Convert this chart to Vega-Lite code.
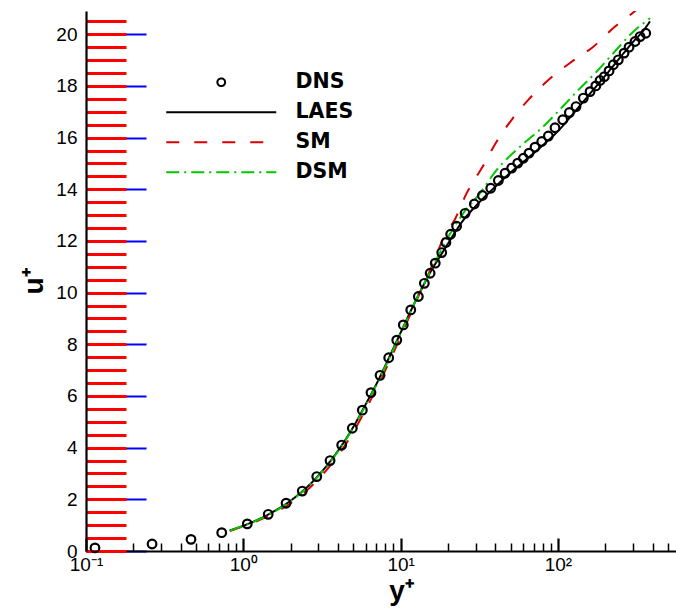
{
  "$schema": "https://vega.github.io/schema/vega-lite/v6.json",
  "width": 590,
  "height": 540,
  "autosize": {"type": "none"},
  "padding": {"left": 86, "top": 11, "right": 0, "bottom": 64},
  "background": "white",
  "config": {
    "view": {"stroke": null},
    "font": "Liberation Sans",
    "axis": {
      "domainColor": "black",
      "domainWidth": 2.2,
      "ticks": false,
      "grid": true,
      "gridColor": "black",
      "gridOpacity": 1,
      "labelColor": "black",
      "labelFont": "Liberation Sans",
      "labelFontSize": 19,
      "titleFont": "Liberation Sans",
      "titleFontWeight": "bold",
      "titleFontSize": 28,
      "titleColor": "black",
      "labelOverlap": false,
      "labelBound": false,
      "labelFlush": false
    }
  },
  "datasets": {
    "profiles": [
      {"m": "DNS", "yp": 0.114, "up": 0.12},
      {"m": "DNS", "yp": 0.263, "up": 0.27},
      {"m": "DNS", "yp": 0.465, "up": 0.45},
      {"m": "DNS", "yp": 0.729, "up": 0.71},
      {"m": "DNS", "yp": 1.06, "up": 1.05},
      {"m": "DNS", "yp": 1.44, "up": 1.42},
      {"m": "DNS", "yp": 1.87, "up": 1.85},
      {"m": "DNS", "yp": 2.37, "up": 2.32},
      {"m": "DNS", "yp": 2.93, "up": 2.88},
      {"m": "DNS", "yp": 3.56, "up": 3.5},
      {"m": "DNS", "yp": 4.22, "up": 4.1},
      {"m": "DNS", "yp": 4.93, "up": 4.75},
      {"m": "DNS", "yp": 5.71, "up": 5.45},
      {"m": "DNS", "yp": 6.48, "up": 6.13},
      {"m": "DNS", "yp": 7.4, "up": 6.8},
      {"m": "DNS", "yp": 8.4, "up": 7.48},
      {"m": "DNS", "yp": 9.45, "up": 8.16},
      {"m": "DNS", "yp": 10.4, "up": 8.75},
      {"m": "DNS", "yp": 11.6, "up": 9.33},
      {"m": "DNS", "yp": 12.96, "up": 9.85},
      {"m": "DNS", "yp": 14.15, "up": 10.36},
      {"m": "DNS", "yp": 15.4, "up": 10.75},
      {"m": "DNS", "yp": 16.6, "up": 11.14},
      {"m": "DNS", "yp": 18.25, "up": 11.55},
      {"m": "DNS", "yp": 19.4, "up": 11.94},
      {"m": "DNS", "yp": 20.8, "up": 12.26},
      {"m": "DNS", "yp": 22.7, "up": 12.57},
      {"m": "DNS", "yp": 25.7, "up": 13.07},
      {"m": "DNS", "yp": 29.4, "up": 13.43},
      {"m": "DNS", "yp": 33.1, "up": 13.76},
      {"m": "DNS", "yp": 37.4, "up": 14.04},
      {"m": "DNS", "yp": 41.8, "up": 14.34},
      {"m": "DNS", "yp": 46.1, "up": 14.62},
      {"m": "DNS", "yp": 50.8, "up": 14.82},
      {"m": "DNS", "yp": 55.5, "up": 15.01},
      {"m": "DNS", "yp": 60.3, "up": 15.2},
      {"m": "DNS", "yp": 65.5, "up": 15.4},
      {"m": "DNS", "yp": 71.5, "up": 15.63},
      {"m": "DNS", "yp": 78.9, "up": 15.85},
      {"m": "DNS", "yp": 86.9, "up": 16.06},
      {"m": "DNS", "yp": 95.8, "up": 16.38},
      {"m": "DNS", "yp": 107.3, "up": 16.69},
      {"m": "DNS", "yp": 118.2, "up": 16.97},
      {"m": "DNS", "yp": 130.3, "up": 17.2},
      {"m": "DNS", "yp": 145.1, "up": 17.53},
      {"m": "DNS", "yp": 160.0, "up": 17.78},
      {"m": "DNS", "yp": 174.0, "up": 18.0},
      {"m": "DNS", "yp": 185.2, "up": 18.21},
      {"m": "DNS", "yp": 197.2, "up": 18.36},
      {"m": "DNS", "yp": 211.3, "up": 18.58},
      {"m": "DNS", "yp": 225.0, "up": 18.82},
      {"m": "DNS", "yp": 242.0, "up": 19.01},
      {"m": "DNS", "yp": 263.3, "up": 19.27},
      {"m": "DNS", "yp": 283.2, "up": 19.5},
      {"m": "DNS", "yp": 309.0, "up": 19.72},
      {"m": "DNS", "yp": 332.6, "up": 19.91},
      {"m": "DNS", "yp": 361.6, "up": 20.04},

      {"m": "LAES", "yp": 0.82, "up": 0.8},
      {"m": "LAES", "yp": 1.0, "up": 0.98},
      {"m": "LAES", "yp": 1.5, "up": 1.47},
      {"m": "LAES", "yp": 2, "up": 1.95},
      {"m": "LAES", "yp": 3, "up": 2.92},
      {"m": "LAES", "yp": 4, "up": 3.88},
      {"m": "LAES", "yp": 5, "up": 4.8},
      {"m": "LAES", "yp": 6, "up": 5.68},
      {"m": "LAES", "yp": 7, "up": 6.45},
      {"m": "LAES", "yp": 8, "up": 7.18},
      {"m": "LAES", "yp": 9, "up": 7.85},
      {"m": "LAES", "yp": 10, "up": 8.45},
      {"m": "LAES", "yp": 12, "up": 9.48},
      {"m": "LAES", "yp": 14, "up": 10.3},
      {"m": "LAES", "yp": 16, "up": 10.95},
      {"m": "LAES", "yp": 18, "up": 11.45},
      {"m": "LAES", "yp": 20, "up": 11.9},
      {"m": "LAES", "yp": 25, "up": 12.8},
      {"m": "LAES", "yp": 30, "up": 13.35},
      {"m": "LAES", "yp": 40, "up": 14.1},
      {"m": "LAES", "yp": 50, "up": 14.65},
      {"m": "LAES", "yp": 60, "up": 15.05},
      {"m": "LAES", "yp": 80, "up": 15.7},
      {"m": "LAES", "yp": 100, "up": 16.25},
      {"m": "LAES", "yp": 130, "up": 17.05},
      {"m": "LAES", "yp": 160, "up": 17.7},
      {"m": "LAES", "yp": 200, "up": 18.4},
      {"m": "LAES", "yp": 250, "up": 19.12},
      {"m": "LAES", "yp": 300, "up": 19.7},
      {"m": "LAES", "yp": 350, "up": 20.15},
      {"m": "LAES", "yp": 385, "up": 20.5},

      {"m": "SM", "yp": 0.82, "up": 0.77},
      {"m": "SM", "yp": 1.0, "up": 0.95},
      {"m": "SM", "yp": 1.5, "up": 1.41},
      {"m": "SM", "yp": 2, "up": 1.85},
      {"m": "SM", "yp": 3, "up": 2.78},
      {"m": "SM", "yp": 4, "up": 3.7},
      {"m": "SM", "yp": 5, "up": 4.6},
      {"m": "SM", "yp": 6, "up": 5.48},
      {"m": "SM", "yp": 7, "up": 6.27},
      {"m": "SM", "yp": 8, "up": 7.0},
      {"m": "SM", "yp": 10, "up": 8.3},
      {"m": "SM", "yp": 12, "up": 9.4},
      {"m": "SM", "yp": 14, "up": 10.3},
      {"m": "SM", "yp": 16, "up": 11.1},
      {"m": "SM", "yp": 18.7, "up": 12.1},
      {"m": "SM", "yp": 22.2, "up": 12.85},
      {"m": "SM", "yp": 26.3, "up": 13.85},
      {"m": "SM", "yp": 32.8, "up": 14.82},
      {"m": "SM", "yp": 40.8, "up": 15.85},
      {"m": "SM", "yp": 50.8, "up": 16.69},
      {"m": "SM", "yp": 64.8, "up": 17.46},
      {"m": "SM", "yp": 86.9, "up": 18.23},
      {"m": "SM", "yp": 122.4, "up": 18.94},
      {"m": "SM", "yp": 168, "up": 19.52},
      {"m": "SM", "yp": 230.7, "up": 20.3},
      {"m": "SM", "yp": 309, "up": 20.9},
      {"m": "SM", "yp": 385, "up": 21.45},

      {"m": "DSM", "yp": 0.82, "up": 0.79},
      {"m": "DSM", "yp": 1.0, "up": 0.97},
      {"m": "DSM", "yp": 1.5, "up": 1.45},
      {"m": "DSM", "yp": 2, "up": 1.93},
      {"m": "DSM", "yp": 3, "up": 2.9},
      {"m": "DSM", "yp": 4, "up": 3.85},
      {"m": "DSM", "yp": 5, "up": 4.77},
      {"m": "DSM", "yp": 6, "up": 5.64},
      {"m": "DSM", "yp": 7, "up": 6.42},
      {"m": "DSM", "yp": 8, "up": 7.14},
      {"m": "DSM", "yp": 10, "up": 8.42},
      {"m": "DSM", "yp": 12, "up": 9.47},
      {"m": "DSM", "yp": 14, "up": 10.3},
      {"m": "DSM", "yp": 16, "up": 11.0},
      {"m": "DSM", "yp": 19.6, "up": 12.04},
      {"m": "DSM", "yp": 25, "up": 13.07},
      {"m": "DSM", "yp": 32, "up": 13.85},
      {"m": "DSM", "yp": 40.8, "up": 14.75},
      {"m": "DSM", "yp": 57.4, "up": 15.65},
      {"m": "DSM", "yp": 76.9, "up": 16.31},
      {"m": "DSM", "yp": 103.1, "up": 17.09},
      {"m": "DSM", "yp": 131.7, "up": 17.78},
      {"m": "DSM", "yp": 176.5, "up": 18.56},
      {"m": "DSM", "yp": 225, "up": 19.27},
      {"m": "DSM", "yp": 301.5, "up": 20.1},
      {"m": "DSM", "yp": 385, "up": 20.62}
    ]
  },
  "data": {"name": "profiles"},
  "encoding": {
    "x": {
      "field": "yp",
      "type": "quantitative",
      "scale": {"type": "log", "domain": [0.1, 563], "nice": false},
      "axis": {
        "title": "y⁺",
        "titleX": 315,
        "titleY": 48,
        "titleBaseline": "alphabetic",
        "values": [0.1, 0.2, 0.3, 0.4, 0.5, 0.6, 0.7, 0.8, 0.9, 1, 2, 3, 4, 5, 6, 7, 8, 9, 10, 20, 30, 40, 50, 60, 70, 80, 90, 100, 200, 300, 400, 500],
        "labelExpr": "datum.value == 0.1 ? '10⁻¹' : datum.value == 1 ? '10⁰' : datum.value == 10 ? '10¹' : datum.value == 100 ? '10²' : ''",
        "gridDash": {"condition": {"test": "datum.value == 0.1 || datum.value == 1 || datum.value == 10 || datum.value == 100", "value": [0, 527, 13, 200]}, "value": [0, 532, 8, 200]},
        "gridWidth": {"condition": {"test": "datum.value == 0.1 || datum.value == 1 || datum.value == 10 || datum.value == 100", "value": 2.2}, "value": 1.5},
        "labelPadding": 4
      }
    },
    "y": {
      "field": "up",
      "type": "quantitative",
      "scale": {"domain": [0, 20.9], "nice": false, "zero": false},
      "axis": {
        "title": "u⁺",
        "titleX": -44,
        "titleBaseline": "alphabetic",
        "values": [0, 0.5, 1, 1.5, 2, 2.5, 3, 3.5, 4, 4.5, 5, 5.5, 6, 6.5, 7, 7.5, 8, 8.5, 9, 9.5, 10, 10.5, 11, 11.5, 12, 12.5, 13, 13.5, 14, 14.5, 15, 15.5, 16, 16.5, 17, 17.5, 18, 18.5, 19, 19.5, 20, 20.5],
        "labelExpr": "datum.value % 2 == 0 ? format(datum.value, 'd') : ''",
        "ticks": true,
        "tickSize": -40,
        "tickWidth": 3,
        "tickColor": "red",
        "gridColor": "blue",
        "gridDash": {"condition": {"test": "datum.value % 2 == 0", "value": [60, 1200]}, "value": [30, 1200]},
        "gridWidth": {"condition": {"test": "datum.value % 2 == 0", "value": 2.2}, "value": 1.5},
        "labelPadding": 49
      }
    },
    "color": {
      "field": "m",
      "type": "nominal",
      "scale": {"domain": ["DNS", "LAES", "SM", "DSM"], "range": ["#000000", "#000000", "#d80000", "#00c800"]},
      "legend": {
        "orient": "none",
        "legendX": 125,
        "legendY": 61,
        "title": null,
        "padding": 0,
        "symbolSize": 100,
        "symbolStrokeWidth": 2,
        "labelFont": "DejaVu Sans",
        "labelFontSize": 20.5,
        "labelFontWeight": "bold",
        "labelColor": "black",
        "labelOffset": 64,
        "rowPadding": 9,
        "encode": {
          "symbols": {
            "update": {
              "shape": {"signal": "datum.value === 'DNS' ? 'circle' : 'M-11,0H11'"},
              "size": {"signal": "datum.value === 'DNS' ? 60 : 100"},
              "strokeDash": {"signal": "datum.value === 'SM' ? [13,15] : datum.value === 'DSM' ? [13,5,2,5] : [1,0]"},
              "strokeWidth": {"value": 2},
              "fill": {"value": "transparent"},
              "opacity": {"value": 1}
            }
          }
        }
      }
    }
  },
  "layer": [
    {
      "transform": [{"filter": "datum.m !== 'DNS'"}],
      "mark": {"type": "line", "strokeWidth": 2, "clip": true, "interpolate": "monotone"},
      "encoding": {
        "strokeDash": {
          "field": "m",
          "type": "nominal",
          "scale": {"domain": ["LAES", "SM", "DSM"], "range": [[1, 0], [13, 15], [13, 5, 2, 5]]},
          "legend": null
        }
      }
    },
    {
      "transform": [{"filter": "datum.m === 'DNS'"}],
      "mark": {"type": "point", "shape": "circle", "filled": false, "size": 75, "strokeWidth": 2.2, "opacity": 1}
    }
  ]
}
